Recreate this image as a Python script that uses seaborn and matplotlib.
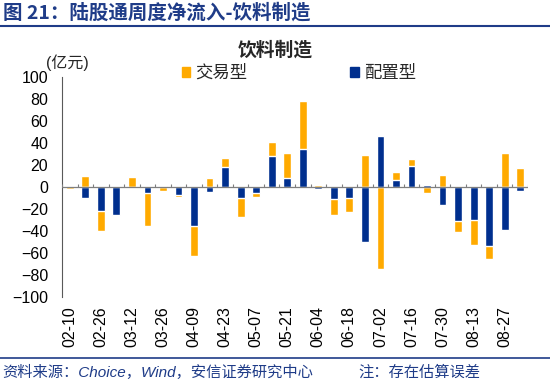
import numpy as np
import pandas as pd
import matplotlib
matplotlib.use('Agg')
import matplotlib.pyplot as plt
import seaborn as sns
from matplotlib.patches import Patch
from matplotlib.lines import Line2D

# weekly dates (only every other one is labelled on the axis)
dates = ['02-10', '02-18', '02-26', '03-05', '03-12', '03-19', '03-26', '04-02',
         '04-09', '04-16', '04-23', '04-30', '05-07', '05-14', '05-21', '05-28',
         '06-04', '06-11', '06-18', '06-25', '07-02', '07-09', '07-16', '07-23',
         '07-30', '08-06', '08-13', '08-20', '08-27', '09-03']
# 配置型 (allocation) and 交易型 (trading) net inflow, 亿元
alloc = [0, -10, -22.5, -26, 0, -5.5, 0.5, -7.5, -36, -5, 17.5, -10, -6, 27.5, 8,
         34.5, -2.5, -11, -10, -50.5, 46, 6, 19, 2, -17, -31, -30, -54, -39.5, -4]
trade = [-2, 9.5, -18, 0, 9, -30, -3.5, -1.5, -27, 8, 8.5, -17.5, -3, 13, 23,
         43.5, 1.2, -15, -13, 28.5, -75, 7.5, 6, -5.5, 10.5, -10, -23, -12, 30.5, 17]
tick_labels = dates[::2]

YELLOW = '#FFAA00'
NAVY = '#002F8E'
HEAD = '#1F3C88'

df = pd.DataFrame({'date': dates, 'alloc': alloc, 'trade': trade})
# stack trading on top of allocation when both go the same way
same = np.sign(df['alloc']) == np.sign(df['trade'])
df['trade_top'] = np.where(same, df['alloc'] + df['trade'], df['trade'])

sns.set_style('white')
plt.rcParams['font.family'] = ['Liberation Sans', 'Noto Sans CJK SC']

fig = plt.figure(figsize=(5.5, 3.87), dpi=100)
ax = fig.add_axes([0.1127, 0.2333, 0.8473, 0.5685])

sns.barplot(data=df, x='date', y='trade_top', order=dates, color=YELLOW,
            saturation=1, width=0.5, errorbar=None, ax=ax, zorder=2)
sns.barplot(data=df, x='date', y='alloc', order=dates, color=NAVY,
            saturation=1, width=0.5, errorbar=None, ax=ax, zorder=3)

ax.set_xlim(-0.5, len(dates) - 0.5)
ax.set_ylim(-100, 100)
ax.set_yticks(np.arange(-100, 101, 20))
ax.set_xticks(range(0, len(dates), 2))
ax.set_xticklabels(tick_labels, rotation=90)
ax.set_xlabel('')
ax.set_ylabel('')

ax.tick_params(axis='x', length=0, pad=7, labelsize=11.5, colors='black')
ax.tick_params(axis='y', direction='in', length=4, width=0.8, color='#595959',
               pad=10, labelsize=11.5, labelcolor='black')
for s in ['top', 'right', 'bottom']:
    ax.spines[s].set_visible(False)
ax.spines['left'].set_color('#595959')
ax.spines['left'].set_linewidth(0.8)

# zero line with small category ticks
ax.axhline(0, color='#7f7f7f', lw=0.9, zorder=4)
bounds = np.arange(-0.5, len(dates), 1.0)
ax.vlines(bounds, 0, 2.8, color='#7f7f7f', lw=0.8, zorder=4)

fig.text(0.5, 0.870, '饮料制造', ha='center', va='center', fontsize=13.5,
         fontweight='bold', family=['Noto Sans CJK SC'])
fig.text(0.083, 0.837, '(亿元)', ha='left', va='center', fontsize=11.5,
         family=['Liberation Sans', 'Noto Sans CJK SC'])

handles = [Patch(color=YELLOW, label='交易型'), Patch(color=NAVY, label='配置型')]
fig.legend(handles=handles, loc='center left', bbox_to_anchor=(0.330, 0.812),
           ncol=2, frameon=False, handlelength=0.5, handleheight=0.5,
           handletextpad=0.3, columnspacing=5.9, borderaxespad=0, borderpad=0,
           prop={'family': ['Noto Sans CJK SC'], 'size': 12.5})

# header and footer
fig.text(0.005, 0.967, '图 21：陆股通周度净流入-饮料制造', ha='left', va='center',
         fontsize=14, fontweight='bold', color=HEAD, family=['Noto Sans CJK SC'])
fig.add_artist(Line2D([0, 1], [0.932, 0.932], color=HEAD, lw=1.5,
                      transform=fig.transFigure))
fig.add_artist(Line2D([0, 1], [0.075, 0.075], color=HEAD, lw=1.2,
                      transform=fig.transFigure))
fig.text(0.005, 0.037, '资料来源：Choice，Wind，安信证券研究中心', ha='left', va='center',
         fontsize=11, style='italic', color=HEAD,
         family=['Liberation Sans', 'Noto Sans CJK SC'])
fig.text(0.651, 0.037, '注：存在估算误差', ha='left', va='center', fontsize=11,
         style='italic', color=HEAD, family=['Noto Sans CJK SC'])

fig.savefig('out.png', dpi=100)
